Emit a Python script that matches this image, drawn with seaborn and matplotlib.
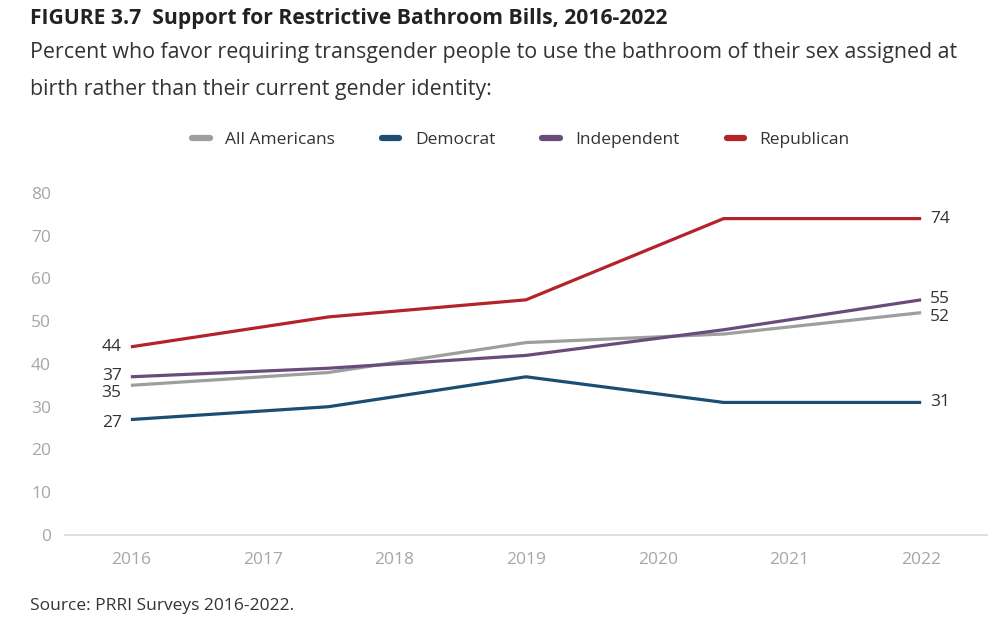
import matplotlib
matplotlib.use("Agg")
import matplotlib.pyplot as plt
from matplotlib.lines import Line2D
import seaborn as sns
import pandas as pd
import numpy as np

# ---- data ----
years = [2016, 2017.5, 2019, 2020.5, 2022]
all_americans = [35, 38, 45, 47, 52]
democrat = [27, 30, 37, 31, 31]
independent = [37, 39, 42, 48, 55]
republican = [44, 51, 55, 74, 74]
series_names = ["All Americans", "Democrat", "Independent", "Republican"]
tick_years = [2016, 2017, 2018, 2019, 2020, 2021, 2022]
y_ticks = [0, 10, 20, 30, 40, 50, 60, 70, 80]

colors = {"All Americans": "#9e9e9e", "Democrat": "#1b4e72",
          "Independent": "#6a4c7c", "Republican": "#b4232a"}

df = pd.DataFrame({
    "year": years * 4,
    "value": all_americans + democrat + independent + republican,
    "group": sum([[n] * len(years) for n in series_names], []),
})

sns.set_theme(style="white")
plt.rcParams["font.family"] = ["Open Sans", "DejaVu Sans"]

fig = plt.figure(figsize=(10, 6.23), dpi=100)
ax = fig.add_axes([0.065, 0.1413, 0.922, 0.549])

sns.lineplot(data=df, x="year", y="value", hue="group", palette=colors,
             hue_order=series_names, linewidth=2.3, ax=ax, legend=False,
             solid_capstyle="butt")

ax.set_xlim(2015.5, 2022.5)
ax.set_ylim(0, 80)
ax.set_xticks(tick_years)
ax.set_xticklabels([str(y) for y in tick_years], color="#a6a6a6", fontsize=12.5)
ax.set_xticks([y - 0.5 for y in tick_years] + [2022.5], minor=True)
ax.tick_params(axis="x", which="major", length=0, pad=12)
ax.tick_params(axis="x", which="minor", length=6, color="#d9d9d9", width=1, direction="out")
ax.set_yticks(y_ticks)
ax.set_yticklabels([str(v) for v in y_ticks], color="#a6a6a6", fontsize=12.5)
ax.tick_params(axis="y", length=0, pad=10)
ax.set_xlabel("")
ax.set_ylabel("")
for s in ["top", "right", "left"]:
    ax.spines[s].set_visible(False)
ax.spines["bottom"].set_color("#d9d9d9")
ax.spines["bottom"].set_linewidth(1.2)
ax.grid(False)

# end labels
vals = {"All Americans": all_americans, "Democrat": democrat,
        "Independent": independent, "Republican": republican}
left_offsets = {"All Americans": -1.7, "Democrat": -0.8, "Independent": 0.3, "Republican": 0.0}
right_offsets = {"All Americans": -0.9, "Democrat": 0.0, "Independent": 0.2, "Republican": 0.0}
for n in series_names:
    v = vals[n]
    ax.text(years[0] - 0.07, v[0] + left_offsets[n], str(v[0]), ha="right", va="center",
            fontsize=12.5, color="#333333")
    ax.text(years[-1] + 0.07, v[-1] + right_offsets[n], str(v[-1]), ha="left", va="center",
            fontsize=12.5, color="#333333")

# legend
handles = [Line2D([0], [0], color=colors[n], lw=4.5, solid_capstyle="round") for n in series_names]
fig.legend(handles, series_names, loc="center", bbox_to_anchor=(0.521, 0.775), ncol=4,
           frameon=False, fontsize=12.5, handlelength=1.0, handletextpad=0.9,
           columnspacing=2.7, labelcolor="#333333")

# titles
fig.text(0.03, 0.971, "FIGURE 3.7  Support for Restrictive Bathroom Bills, 2016-2022",
         fontsize=15.2, fontweight="bold", color="#222222", va="center", ha="left")
fig.text(0.03, 0.915, "Percent who favor requiring transgender people to use the bathroom of their sex assigned at",
         fontsize=15.4, color="#333333", va="center", ha="left")
fig.text(0.03, 0.857, "birth rather than their current gender identity:",
         fontsize=15.4, color="#333333", va="center", ha="left")
fig.text(0.03, 0.028, "Source: PRRI Surveys 2016-2022.",
         fontsize=12.5, color="#333333", va="center", ha="left")

fig.savefig("out.png", dpi=100, facecolor="white")
